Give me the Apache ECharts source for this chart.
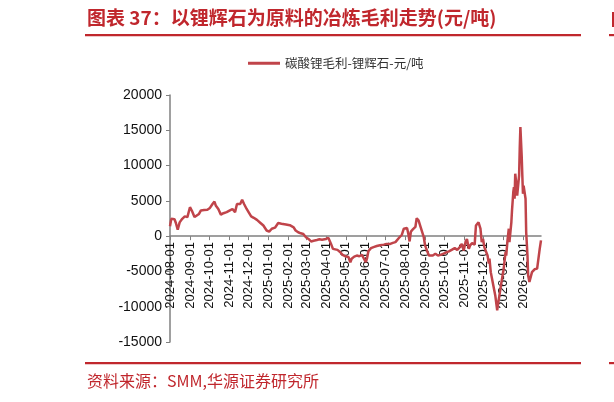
<!DOCTYPE html>
<html>
<head>
<meta charset="utf-8">
<script src="https://cdn.jsdelivr.net/npm/echarts@6/dist/echarts.min.js"></script>
<style>
html,body{margin:0;padding:0;background:#fff;}
#chart{width:614px;height:402px;}
</style>
</head>
<body>
<div id="chart"></div>
<script>
// ---- data ----
const titleText = '图表 37：以锂辉石为原料的冶炼毛利走势(元/吨)';
const sourceText = '资料来源：SMM,华源证券研究所';
const seriesName = '碳酸锂毛利-锂辉石-元/吨';
const axisStart = '2024-08-01';
const axisEnd = '2026-02-28';
const yTicks = [-15000, -10000, -5000, 0, 5000, 10000, 15000, 20000];

const sampleDates = [
 '2024-08-01','2024-08-03','2024-08-06','2024-08-08','2024-08-10','2024-08-13','2024-08-16','2024-08-20','2024-08-24','2024-08-28',
 '2024-09-01','2024-09-04','2024-09-08','2024-09-11','2024-09-15','2024-09-18','2024-09-23','2024-09-28',
 '2024-10-02','2024-10-06','2024-10-09','2024-10-11','2024-10-15','2024-10-19','2024-10-23','2024-10-28',
 '2024-11-02','2024-11-06','2024-11-10','2024-11-13','2024-11-15','2024-11-18','2024-11-21','2024-11-24','2024-11-28',
 '2024-12-01','2024-12-05','2024-12-09','2024-12-14','2024-12-19','2024-12-24','2024-12-29',
 '2025-01-02','2025-01-06','2025-01-11','2025-01-16','2025-01-21','2025-01-28',
 '2025-02-03','2025-02-09','2025-02-12','2025-02-16','2025-02-20','2025-02-24','2025-02-28',
 '2025-03-04','2025-03-08','2025-03-12','2025-03-17','2025-03-21','2025-03-25','2025-03-28','2025-03-31',
 '2025-04-04','2025-04-08','2025-04-11','2025-04-14','2025-04-18','2025-04-22','2025-04-26','2025-04-30',
 '2025-05-03','2025-05-05','2025-05-08','2025-05-10','2025-05-14','2025-05-18','2025-05-22','2025-05-26','2025-05-29',
 '2025-06-01','2025-06-03','2025-06-05','2025-06-09','2025-06-13','2025-06-18','2025-06-23','2025-06-29',
 '2025-07-03','2025-07-06','2025-07-09','2025-07-13','2025-07-17','2025-07-19','2025-07-22','2025-07-24','2025-07-27','2025-07-30',
 '2025-08-01','2025-08-04','2025-08-06','2025-08-08','2025-08-10','2025-08-13','2025-08-17','2025-08-19','2025-08-22','2025-08-25','2025-08-27','2025-08-30',
 '2025-09-01','2025-09-04','2025-09-07','2025-09-09','2025-09-13','2025-09-17','2025-09-21','2025-09-25','2025-09-29',
 '2025-10-03','2025-10-08','2025-10-13','2025-10-17','2025-10-21','2025-10-25','2025-10-28','2025-10-31',
 '2025-11-03','2025-11-05','2025-11-08','2025-11-10','2025-11-13','2025-11-15','2025-11-17','2025-11-19','2025-11-21','2025-11-23','2025-11-26','2025-11-28','2025-11-30',
 '2025-12-02','2025-12-05','2025-12-07','2025-12-09','2025-12-10','2025-12-12','2025-12-14','2025-12-16','2025-12-19','2025-12-22','2025-12-23','2025-12-25','2025-12-27','2025-12-29',
 '2026-01-01','2026-01-04','2026-01-05','2026-01-07','2026-01-09','2026-01-10','2026-01-13','2026-01-14','2026-01-16','2026-01-17','2026-01-18','2026-01-19','2026-01-21','2026-01-22','2026-01-25','2026-01-26','2026-01-27','2026-01-29','2026-01-30','2026-01-31',
 '2026-02-01','2026-02-02','2026-02-04','2026-02-05','2026-02-07','2026-02-08','2026-02-10','2026-02-12','2026-02-14','2026-02-18','2026-02-22','2026-02-25','2026-02-26','2026-02-28'
];

const profit = [
 1400,2450,2300,2400,1900,900,1950,2450,2800,2700,
 4100,3600,2700,2450,3150,3650,3700,3750,
 4000,4550,4900,4350,3850,3050,3250,3400,
 3650,3850,3400,4550,4800,4550,5150,4550,3850,
 3400,2800,2600,2300,1900,1500,800,
 650,1050,1200,1850,1750,1650,
 1550,1250,800,550,400,300,-150,
 -400,-750,-650,-550,-450,-500,-300,-400,
 -250,-1100,-1800,-1950,-1950,-2250,-2650,-2850,
 -3100,-2950,-3700,-3200,-2900,-2750,-2850,-2650,-2850,
 -3700,-3100,-2150,-1700,-1550,-1400,-1300,-1200,
 -1100,-850,-1100,-950,-850,-600,-300,-450,200,1050,
 800,1150,350,-750,650,950,1300,2550,2200,1300,1050,-150,
 -1300,-2050,-2750,-3000,-2750,-2500,-2750,-2650,-2500,
 -2350,-2150,-1900,-1700,-1950,-1550,-1100,-2050,
 -750,-400,-1800,-1300,-1000,-900,-1200,1500,1750,1950,1050,-850,-400,
 -1550,-1800,-2750,-3900,-3200,-5100,-4850,-7000,-8400,-10500,-9800,-8650,-7450,-6300,
 -4650,-2250,-2750,-600,1050,-850,2000,3650,6250,6950,5300,8850,7150,5750,8600,12400,15450,11400,8600,6000,
 7150,7400,5300,550,-2750,-5550,-6500,-6300,-5100,-4700,-4600,-4400,-1800,-600
];

// ---- build daily category axis ----
function fmt(d){
  const m = d.getUTCMonth()+1, day = d.getUTCDate();
  return d.getUTCFullYear()+'-'+(m<10?'0':'')+m+'-'+(day<10?'0':'')+day;
}
const days = [];
{
  const s = new Date(axisStart+'T00:00:00Z'), e = new Date(axisEnd+'T00:00:00Z');
  for (let t = s.getTime(); t <= e.getTime(); t += 86400000) days.push(fmt(new Date(t)));
}
const seriesData = sampleDates.map((d,i)=>[d, profit[i]]);

const GRID_TOP = 95, GRID_BOTTOM = 60, H = 402;
const gridH = H - GRID_TOP - GRID_BOTTOM;
const yMin = yTicks[0], yMax = yTicks[yTicks.length-1];
// move the category axis (line, ticks, labels) up to the zero value line
const zeroOffset = -gridH * (0 - yMin) / (yMax - yMin);
const isMonthStart = (i, v) => v.slice(8) === '01';

const RED = '#c0272d';
const LINE = '#c0444a';
const chart = echarts.init(document.getElementById('chart'), null, {renderer:'canvas'});
chart.setOption({
  animation:false,
  backgroundColor:'#ffffff',
  textStyle:{fontFamily:'Liberation Sans, Arial, sans-serif'},
  graphic:[
    {type:'text', left:87, top:8, style:{text:titleText, fill:RED, font:'bold 19px "Noto Sans CJK SC"'}},
    {type:'rect', shape:{x:85, y:34, width:496, height:2.2}, style:{fill:RED}},
    {type:'rect', shape:{x:609, y:34, width:6, height:2.2}, style:{fill:RED}},
    {type:'rect', shape:{x:612, y:12, width:2, height:15}, style:{fill:RED}},
    {type:'rect', shape:{x:85, y:362, width:496, height:2.2}, style:{fill:RED}},
    {type:'rect', shape:{x:609, y:362, width:6, height:2.2}, style:{fill:RED}},
    {type:'text', left:87, top:373, style:{text:sourceText, fill:RED, font:'16px "Noto Sans CJK SC"'}}
  ],
  legend:{
    left:243, top:52, icon:'rect', itemWidth:32, itemHeight:3, itemGap:6,
    textStyle:{fontFamily:'"Noto Sans CJK SC"', fontSize:12.5, color:'#333'},
    data:[seriesName]
  },
  grid:{left:170, right:73, top:GRID_TOP, bottom:GRID_BOTTOM, containLabel:false, outerBoundsMode:'none'},
  xAxis:{
    type:'category', data:days, boundaryGap:false, offset:zeroOffset,
    axisLine:{onZero:false, lineStyle:{color:'#808080', width:1.5}},
    axisTick:{show:true, length:4, lineStyle:{color:'#808080'}, interval:isMonthStart},
    axisLabel:{rotate:90, margin:6, fontSize:13, color:'#111',
      fontFamily:'Liberation Sans, Arial, sans-serif',
      interval:isMonthStart, hideOverlap:false},
    splitLine:{show:false}
  },
  yAxis:{
    type:'value', min:yMin, max:yMax, interval:5000,
    axisLine:{show:true, lineStyle:{color:'#808080', width:1.5}},
    axisTick:{show:true, length:4, lineStyle:{color:'#808080'}},
    axisLabel:{fontSize:14, color:'#111', margin:8, fontFamily:'Liberation Sans, Arial, sans-serif',
      formatter:(v)=>String(v)},
    splitLine:{show:false}
  },
  series:[{
    name:seriesName, type:'line', data:seriesData, showSymbol:false, symbol:'none',
    lineStyle:{color:LINE, width:2.5}, itemStyle:{color:LINE}
  }]
});
</script>
</body>
</html>
